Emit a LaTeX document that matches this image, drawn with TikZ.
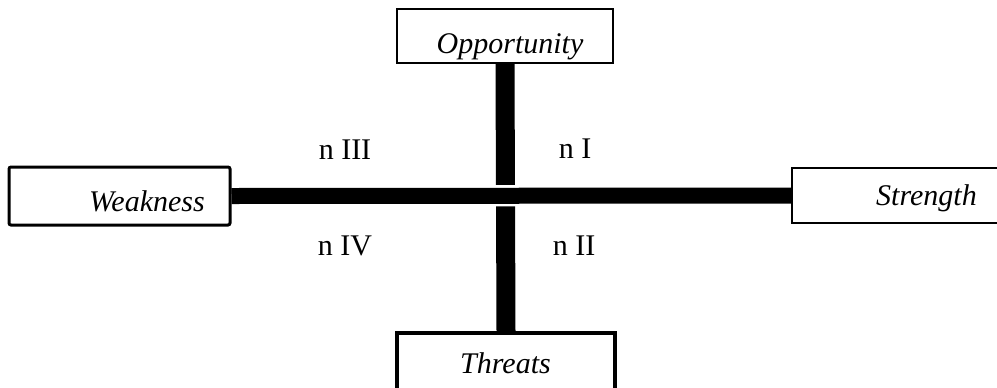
\documentclass[tikz,border=0pt]{standalone}
\usepackage{fontspec}
\setmainfont{Liberation Serif}
\usetikzlibrary{backgrounds}

\tikzset{
  swotbox/.style={draw=black, line width=1.6pt, inner sep=0pt},
  swottext/.style={inner sep=0pt, font=\itshape\fontsize{22.5}{27}\selectfont},
  quadtext/.style={inner sep=0pt, anchor=base, font=\fontsize{22.5}{27}\selectfont}
}

\begin{document}
\begin{tikzpicture}[x=0.75pt,y=-0.75pt]
                    \useasboundingbox (0,0) rectangle (997,387);

                    % the four boxes
                    \node[swotbox, minimum width=162pt, minimum height=40.5pt] (opp) at (505,36) {};
                    \node[swotbox, line width=2.25pt, rounded corners=1.5pt, minimum width=165.75pt, minimum height=43.5pt] (weak) at (119.5,196) {};
                    \node[swotbox, minimum width=155.25pt, minimum height=41.25pt] (str) at (895.5,195.5) {};
                    \node[swotbox, line width=3pt, minimum width=163.5pt, minimum height=44.25pt] (thr) at (506,362.5) {};

                    \node[swottext, anchor=base] (opptext) at (510,53) {Opportunity};
                    \node[swottext, anchor=base east] (weaktext) at (205,211) {Weakness};
                    \node[swottext, anchor=base east] (strtext) at (977,205) {Strength};
                    \node[swottext, anchor=base] (thrtext) at (505.5,373) {Threats};

                    % the axes
                    \begin{scope}[on background layer]
                    \draw[black, line width=14.25pt] (opp.south) -- (thr.north);
                    \draw[white, line width=1.9pt, double=black, double distance=12pt] (weak.east) -- (str.west);
                    \end{scope}

                    % quadrants
                    \node[quadtext] (q3) at (345,159) {n III};
                    \node[quadtext] (q1) at (575,158) {n I};
                    \node[quadtext] (q4) at (345,255) {n IV};
                    \node[quadtext] (q2) at (574,255) {n II};
                \end{tikzpicture}
\end{document}
